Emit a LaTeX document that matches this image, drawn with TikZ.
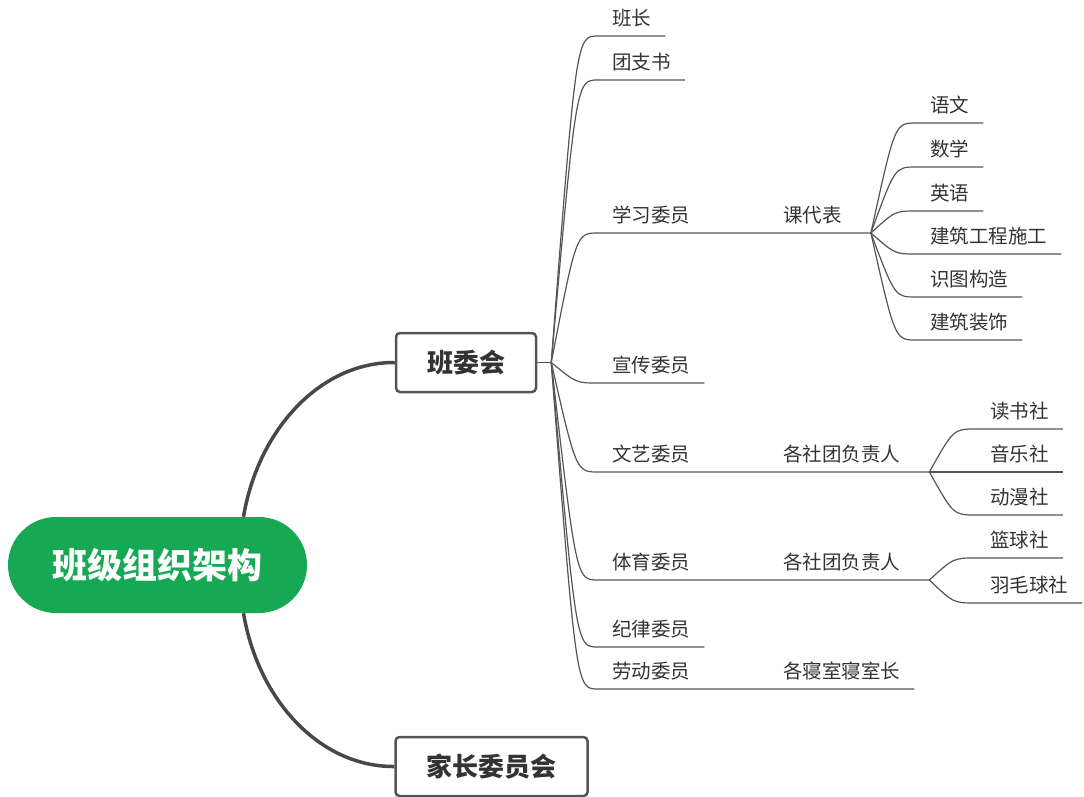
\documentclass[tikz,border=0pt]{standalone}
\usepackage{fontspec}
\setmainfont{Noto Sans CJK SC}
\usetikzlibrary{calc}
\definecolor{rootgreen}{RGB}{22,168,82}
\definecolor{linegray}{RGB}{85,85,85}
\definecolor{textgray}{RGB}{51,51,51}
\tikzset{
  root/.style={fill=rootgreen, text=white, rounded corners=48pt,
    minimum width=299pt, minimum height=96pt,
    font=\fontsize{35}{35}\selectfont\bfseries, text height=31pt, text depth=4pt},
  mainbox/.style={draw=linegray, line width=2.5pt, rounded corners=4pt, fill=white,
    inner xsep=31pt, inner ysep=0pt, minimum height=59pt, text=textgray,
    font=\fontsize{26}{26}\selectfont\bfseries, text height=23pt, text depth=3pt},
  topic/.style={anchor=south west, inner xsep=14pt, inner ysep=3pt,
    text height=17pt, text depth=7pt, text=textgray,
    font=\fontsize{19.5}{20}\selectfont},
  thickline/.style={draw=linegray!85!black, line width=3.5pt},
  thinline/.style={draw=linegray, line width=1.2pt},
}
\begin{document}
\begin{tikzpicture}[x=1pt,y=-1pt]
  \useasboundingbox (0,0) rectangle (1084,796);
  % main topics
  \node[root] (root) at (157.5,565) {班级组织架构};
  \node[mainbox] (bwh) at (466,362.5) {班委会};
  \node[mainbox] (jzh) at (491.5,766.5) {家长委员会};
  % first level
  \node[topic] (bz) at (598,36) {班长};
  \node[topic] (tzs) at (598,80) {团支书};
  \node[topic] (xx) at (598,233) {学习委员};
  \node[topic] (xc) at (598,383) {宣传委员};
  \node[topic] (wy) at (598,472) {文艺委员};
  \node[topic] (ty) at (598,580) {体育委员};
  \node[topic] (jl) at (598,647) {纪律委员};
  \node[topic] (ld) at (598,689) {劳动委员};
  % second level
  \node[topic] (kdb) at (769,233) {课代表};
  \node[topic] (wyfz) at (769,472) {各社团负责人};
  \node[topic] (tyfz) at (769,580) {各社团负责人};
  \node[topic] (qsz) at (769,689) {各寝室寝室长};
  % third level
  \node[topic] (yw) at (916,123) {语文};
  \node[topic] (sx) at (916,167) {数学};
  \node[topic] (yy) at (916,211) {英语};
  \node[topic] (jzsg) at (916,254) {建筑工程施工};
  \node[topic] (stgz) at (916,297) {识图构造};
  \node[topic] (jzzs) at (916,340) {建筑装饰};
  \node[topic] (ds) at (976,429) {读书社};
  \node[topic] (yl) at (976,472) {音乐社};
  \node[topic] (dm) at (976,515) {动漫社};
  \node[topic] (lq) at (976,558) {篮球社};
  \node[topic] (ymq) at (976,603) {羽毛球社};
  % junctions
  \coordinate (rt) at ($(root.north)+(86,0)$);
  \coordinate (rb) at ($(root.south)+(86,0)$);
  \coordinate (jb) at ($(bwh.east)+(14,0)$);
  \coordinate (jk) at ($(kdb.south east)+(15,0)$);
  \coordinate (jw) at ($(wyfz.south east)+(15,0)$);
  \coordinate (jt) at ($(tyfz.south east)+(15,0)$);
  \draw[thickline] (rt) .. controls (258,430) and (320,362) .. (bwh.west);
  \draw[thickline] (rb) .. controls (258,700) and (320,767) .. (jzh.west);
  \begin{scope}[thinline]
    \draw (bwh.east) -- (jb);
    \draw (jb) .. controls ($(jb |- bz.south west)+(25,0)$) .. (bz.south west) -- (bz.south east);
    \draw (jb) .. controls ($(jb |- tzs.south west)+(25,0)$) .. (tzs.south west) -- (tzs.south east);
    \draw (jb) .. controls ($(jb |- xx.south west)+(25,0)$) .. (xx.south west) -- (xx.south east)
      -- (kdb.south west) -- (kdb.south east) -- (jk);
    \draw (jb) .. controls ($(jb |- xc.south west)+(25,0)$) .. (xc.south west) -- (xc.south east);
    \draw (jb) .. controls ($(jb |- wy.south west)+(25,0)$) .. (wy.south west) -- (wy.south east)
      -- (wyfz.south west) -- (wyfz.south east) -- (jw);
    \draw (jb) .. controls ($(jb |- ty.south west)+(25,0)$) .. (ty.south west) -- (ty.south east)
      -- (tyfz.south west) -- (tyfz.south east) -- (jt);
    \draw (jb) .. controls ($(jb |- jl.south west)+(25,0)$) .. (jl.south west) -- (jl.south east);
    \draw (jb) .. controls ($(jb |- ld.south west)+(25,0)$) .. (ld.south west) -- (ld.south east)
      -- (qsz.south west) -- (qsz.south east);
    \draw (jk) .. controls ($(jk |- yw.south west)+(24,0)$) .. (yw.south west) -- (yw.south east);
    \draw (jk) .. controls ($(jk |- sx.south west)+(24,0)$) .. (sx.south west) -- (sx.south east);
    \draw (jk) .. controls ($(jk |- yy.south west)+(24,0)$) .. (yy.south west) -- (yy.south east);
    \draw (jk) .. controls ($(jk |- jzsg.south west)+(24,0)$) .. (jzsg.south west) -- (jzsg.south east);
    \draw (jk) .. controls ($(jk |- stgz.south west)+(24,0)$) .. (stgz.south west) -- (stgz.south east);
    \draw (jk) .. controls ($(jk |- jzzs.south west)+(24,0)$) .. (jzzs.south west) -- (jzzs.south east);
    \draw (jw) .. controls ($(jw |- ds.south west)+(24,0)$) .. (ds.south west) -- (ds.south east);
    \draw (jw) -- (yl.south west) -- (yl.south east);
    \draw (jw) .. controls ($(jw |- dm.south west)+(24,0)$) .. (dm.south west) -- (dm.south east);
    \draw (jt) .. controls ($(jt |- lq.south west)+(24,0)$) .. (lq.south west) -- (lq.south east);
    \draw (jt) .. controls ($(jt |- ymq.south west)+(24,0)$) .. (ymq.south west) -- (ymq.south east);
  \end{scope}
\end{tikzpicture}
\end{document}
